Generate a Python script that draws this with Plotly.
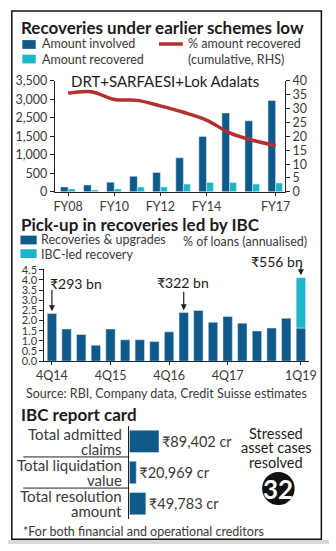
import plotly.graph_objects as go

# ---------------- data ----------------
years = ["FY08", "FY09", "FY10", "FY11", "FY12", "FY13", "FY14", "FY15", "FY16", "FY17"]
amount_involved = [132, 184, 263, 421, 526, 921, 1500, 2131, 1921, 2474]
amount_recovered = [79, 53, 79, 132, 132, 210, 254, 254, 210, 237]
pct_recovered = [35.6, 36.1, 33.3, 33.0, 31.0, 28.7, 25.9, 21.3, 18.6, 16.7]
year_ticks = ["FY08", "FY10", "FY12", "FY14", "FY17"]
left_tick_vals = [0, 500, 1000, 1500, 2000, 2500, 3000]
left_tick_text = ["0", "500", "1,000", "1,500", "2,500", "3,000", "3,500"]
right_tick_vals = [0, 5, 10, 15, 20, 25, 30, 35, 40]

quarters = ["4Q14", "1Q15", "2Q15", "3Q15", "4Q15", "1Q16", "2Q16", "3Q16", "4Q16",
            "1Q17", "2Q17", "3Q17", "4Q17", "1Q18", "2Q18", "3Q18", "4Q18", "1Q19"]
recoveries_upgrades = [2.34, 1.58, 1.31, 0.78, 1.58, 1.05, 1.05, 0.96, 1.44,
                       2.39, 2.49, 1.91, 2.20, 1.87, 1.48, 1.63, 2.11, 1.63]
ibc_led_recovery = [None, None, None, None, None, None, None, None, None,
                    None, None, None, None, None, None, None, None, 2.48]
quarter_ticks = ["4Q14", "4Q15", "4Q16", "4Q17", "1Q19"]
y2_tick_vals = [0.0, 0.5, 1.0, 1.5, 2.0, 2.5, 3.0, 3.5, 4.0, 4.5]
callout_quarters = ["4Q14", "1Q17", "1Q19"]
callout_labels = ["₹293 bn", "₹322 bn", "₹556 bn"]

card_labels = ["Total admitted<br>claims", "Total liquidation<br>value", "Total resolution<br>amount"]
card_values = [89402, 20969, 49783]
cases_resolved = 32

# ---------------- style ----------------
W, H = 336, 551
def X(p): return p / W
def Y(p): return 1 - p / H

DARK = "#0f5a8a"
TEAL = "#1cb6cb"
RED = "#b3312f"
INK = "#1b1b1b"
GREY = "#3a3a3a"
FONT = "Lato"

fig = go.Figure()

# chart 1
fig.add_trace(go.Bar(x=years, y=amount_involved, marker_color=DARK, width=0.33, offset=-0.33,
                     xaxis="x", yaxis="y", name="Amount involved"))
fig.add_trace(go.Bar(x=years, y=amount_recovered, marker_color=TEAL, width=0.3, offset=0.0,
                     xaxis="x", yaxis="y", name="Amount recovered"))
fig.add_trace(go.Scatter(x=years, y=pct_recovered, mode="lines", line=dict(color=RED, width=3.5, shape="spline"),
                         xaxis="x", yaxis="y2", name="% amount recovered"))

# chart 2
fig.add_trace(go.Bar(x=quarters, y=recoveries_upgrades, marker_color=DARK, width=0.64, offset=-0.32,
                     xaxis="x3", yaxis="y3", name="Recoveries & upgrades"))
fig.add_trace(go.Bar(x=quarters, y=ibc_led_recovery, base=recoveries_upgrades, marker_color=TEAL,
                     width=0.64, offset=-0.32, xaxis="x3", yaxis="y3", name="IBC-led recovery"))

# chart 3
fig.add_trace(go.Bar(y=card_labels, x=card_values, orientation="h", marker_color=DARK, width=0.72,
                     text=[f"₹{v:,} cr" for v in card_values], textposition="outside",
                     textfont=dict(family=FONT, size=14.5, color=GREY), cliponaxis=False,
                     xaxis="x4", yaxis="y4"))

axis_common = dict(showgrid=False, zeroline=False, showline=True, linecolor="#222", linewidth=1,
                   ticks="outside", tickcolor="#222", ticklen=3,
                   tickfont=dict(family=FONT, size=12.5, color=GREY))

fig.update_layout(
    width=W, height=H, margin=dict(l=0, r=0, t=0, b=0),
    paper_bgcolor="white", plot_bgcolor="white",
    barmode="overlay", showlegend=False,
    font=dict(family=FONT, color=GREY),
    xaxis=dict(axis_common, domain=[X(49), X(290)], anchor="y", type="category",
               range=[-0.58, 9.41], tickvals=year_ticks, ticklen=3),
    yaxis=dict(axis_common, domain=[Y(189), Y(75)], anchor="x", range=[0, 3000],
               tickvals=left_tick_vals, ticktext=left_tick_text, ticklen=4),
    yaxis2=dict(axis_common, overlaying="y", side="right", anchor="x", range=[0, 40],
                tickvals=right_tick_vals, ticklen=4),
    xaxis3=dict(axis_common, domain=[X(38), X(315)], anchor="y3", type="category",
                range=[-0.52, 17.55], tickvals=quarter_ticks, ticklen=3),
    yaxis3=dict(axis_common, domain=[Y(363), Y(268)], anchor="x3", range=[0, 4.55],
                tickvals=y2_tick_vals, tickformat=".1f", ticklen=4,
                tickfont=dict(family=FONT, size=11, color=GREY)),
    xaxis4=dict(domain=[X(127), X(161.7)], anchor="y4", range=[0, 100000], visible=False),
    yaxis4=dict(domain=[Y(525.5), Y(429.5)], anchor="x4", type="category", range=[2.5, -0.5],
                showline=True, linecolor="#222", linewidth=1, showgrid=False, ticks="",
                showticklabels=False),
)

ann = []
def txt(x, y, s, size=12.5, color=GREY, bold=False, anchor="left"):
    ann.append(dict(x=X(x), y=Y(y), xref="paper", yref="paper", text=f"<b>{s}</b>" if bold else s,
                    showarrow=False, xanchor=anchor, yanchor="middle",
                    font=dict(family=FONT, size=size, color=color)))

shapes = []
def rect(x0, y0, x1, y1, color, line=None):
    shapes.append(dict(type="rect", xref="paper", yref="paper", x0=X(x0), x1=X(x1), y0=Y(y1), y1=Y(y0),
                       fillcolor=color, line=dict(width=0) if line is None else line, layer="above"))

# chart 1 header + legend
txt(12, 20, "Recoveries under earlier schemes low", 17, INK, bold=True)
rect(15, 33, 29, 42, DARK)
txt(34, 37, "Amount involved", 12.5)
rect(15, 48, 29, 57, TEAL)
txt(34, 53, "Amount recovered", 12.5)
shapes.append(dict(type="line", xref="paper", yref="paper", x0=X(158), x1=X(183), y0=Y(37), y1=Y(37),
                    line=dict(color=RED, width=3.5)))
txt(186, 37, "% amount recovered", 12.5)
txt(186, 53, "(cumulative, RHS)", 12.5)
txt(164, 75, "DRT+SARFAESI+Lok Adalats", 15, INK, anchor="center")

# chart 2 header + legend
txt(12, 223, "Pick-up in recoveries led by IBC", 17, INK, bold=True)
rect(13, 234, 30, 243, DARK)
txt(32, 238, "Recoveries & upgrades", 12.5)
rect(13, 248, 30, 257, TEAL)
txt(32, 253, "IBC-led recovery", 12.5)
txt(181, 240, "% of loans (annualised)", 12.5)

# callouts
arrow_len = [-23, -20, -11]
label_pos = [(42, 283, "left"), (183, 282, "center"), (311, 261, "right")]
for q, lab, al, (lx, ly, la) in zip(callout_quarters, callout_labels, arrow_len, label_pos):
    i = quarters.index(q)
    top = recoveries_upgrades[i] + (ibc_led_recovery[i] or 0)
    ann.append(dict(x=q, y=top + 0.12, xref="x3", yref="y3", text="", showarrow=True,
                    ax=0, ay=al, arrowhead=2, arrowsize=1, arrowwidth=1.2, arrowcolor="#222"))
    txt(lx, ly, lab, 14, INK, anchor=la)

txt(17, 396, "Source: RBI, Company data, Credit Suisse estimates", 12.5)

# chart 3
txt(12, 418, "IBC report card", 17, INK, bold=True)
row_centers = [445.5, 477.5, 509.5]
for lab, yc in zip(card_labels, row_centers):
    l1, l2 = lab.split("<br>")
    txt(121, yc - 7.5, l1, 15, GREY, anchor="right")
    txt(121, yc + 7.5, l2, 15, GREY, anchor="right")
for k in (0.5, 1.5):
    shapes.append(dict(type="line", xref="paper", yref="y4", x0=X(16), x1=X(127), y0=k, y1=k,
                       line=dict(color="#222", width=1)))
for yy, s in zip((437, 452, 467), ("Stressed", "asset cases", "resolved")):
    txt(281, yy, s, 14.5, INK, anchor="center")
shapes.append(dict(type="circle", xref="paper", yref="paper", x0=X(266), x1=X(300), y0=Y(511), y1=Y(477),
                   fillcolor="#111", line=dict(width=0)))
txt(283, 494, str(cases_resolved), 26, "white", bold=True, anchor="center")
txt(14, 538, "*For both financial and operational creditors", 12.5)

# frame
shapes.append(dict(type="rect", xref="paper", yref="paper", x0=X(4), x1=X(328), y0=Y(546), y1=Y(3),
                   line=dict(color="#111", width=1.5), fillcolor="rgba(0,0,0,0)"))
rect(0, 547, 336, 551, "#d9d9d9")

fig.update_layout(annotations=ann, shapes=shapes)
fig.write_html("out.html")
